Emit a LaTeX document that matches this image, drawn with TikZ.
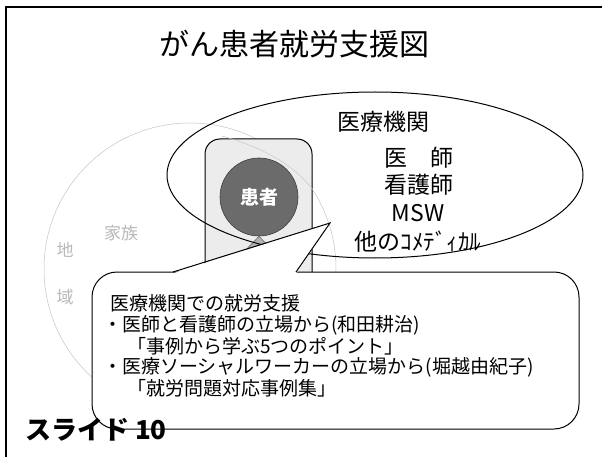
\documentclass[tikz,border=0pt]{standalone}
\usepackage{fontspec}
\setmainfont{Noto Sans CJK JP}
\usetikzlibrary{shapes.geometric}
\begin{document}
\begin{tikzpicture}[x=1pt,y=-1pt,
  frameline/.style={draw=black, line width=1.2pt},
  faint/.style={draw=gray!45, line width=0.5pt},
  faintlabel/.style={text=gray!55, font=\fontsize{17}{20}\selectfont, inner sep=0},
  outline/.style={draw=black, line width=1pt},
  medtext/.style={font=\fontsize{23}{27}\selectfont, inner sep=0},
  bodytext/.style={font=\fontsize{19}{21}\selectfont, inner sep=0, anchor=west}]
\useasboundingbox (0,0) rectangle (602,457);
\fill[white] (0,0) rectangle (602,457);

% slide frame
\coordinate (ftr) at (602,7);
\coordinate (ftl) at (6,7);
\coordinate (fbl) at (6,457);
\draw[frameline] (ftr) -- (ftl) -- (fbl);

% title
\node[font=\fontsize{30}{36}\selectfont, inner sep=0] (title) at (294,44) {がん患者就労支援図};

% region circle and labels
\node[faint, circle, minimum size=292pt, inner sep=0] (chiiki) at (190,269) {};
\node[faintlabel] (chi) at (65,250) {地};
\node[faintlabel] (iki) at (65,297) {域};
\node[faintlabel] (kazoku) at (121,233) {家族};

% patient box
\node[outline, rounded corners=15pt, fill=gray!15, minimum width=107pt, minimum height=161pt, inner sep=0] (patbox) at (258.5,219.5) {};

% family arc
\coordinate (famA) at (222,136);
\coordinate (famB) at (313,190);
\draw[faint] (famA) .. controls (265,148) and (295,166) .. (famB);

% patient
\node[circle, fill=black!58, draw=black!75, line width=0.6pt, minimum size=78pt, inner sep=0, text=white, font=\bfseries\fontsize{19}{22}\selectfont] (kanja) at (259,197) {患者};
\coordinate (triL) at (234,262);
\coordinate (triR) at (284,262);
\filldraw[fill=gray!60, draw=gray!70!black, line width=0.5pt] (kanja.south) -- (triL) -- (triR) -- cycle;

% medical institution ellipse
\node[outline, ellipse, minimum width=416pt, minimum height=166pt, inner sep=0] (iryo) at (375,175) {};
\node[medtext] (kikan) at (383,122) {医療機関};
\node[medtext] (ishi) at (419,158) {医　師};
\node[medtext] (kango) at (419,185) {看護師};
\node[medtext] (msw) at (418,213) {MSW};
\node[medtext] (comed) at (418,242) {他のｺﾒﾃﾞｨｶﾙ};

% callout
\node[outline, fill=white, rounded corners=25pt, minimum width=487pt, minimum height=157pt, inner sep=0] (callout) at (335.5,350.5) {};
\coordinate (tailA) at (173,272);
\coordinate (tailTip) at (330,223);
\coordinate (tailB) at (296,272);
\fill[white] (173,273.4) -- (tailTip) -- (296,273.4) -- cycle;
\draw[outline, line join=miter] (tailA) -- (tailTip) -- (tailB);

\node[bodytext] (l1) at (110,303) {医療機関での就労支援};
\node[bodytext] (l2) at (103,325) {・医師と看護師の立場から(和田耕治)};
\node[bodytext] (l3) at (108,346) {　「事例から学ぶ5つのポイント」};
\node[bodytext] (l4) at (103,367) {・医療ソーシャルワーカーの立場から(堀越由紀子)};
\node[bodytext] (l5) at (108,388) {　「就労問題対応事例集」};

% slide number
\node[font=\bfseries\fontsize{26}{30}\selectfont, inner sep=0, anchor=base west] (slide) at (25,439) {スライド 10};
\end{tikzpicture}
\end{document}
